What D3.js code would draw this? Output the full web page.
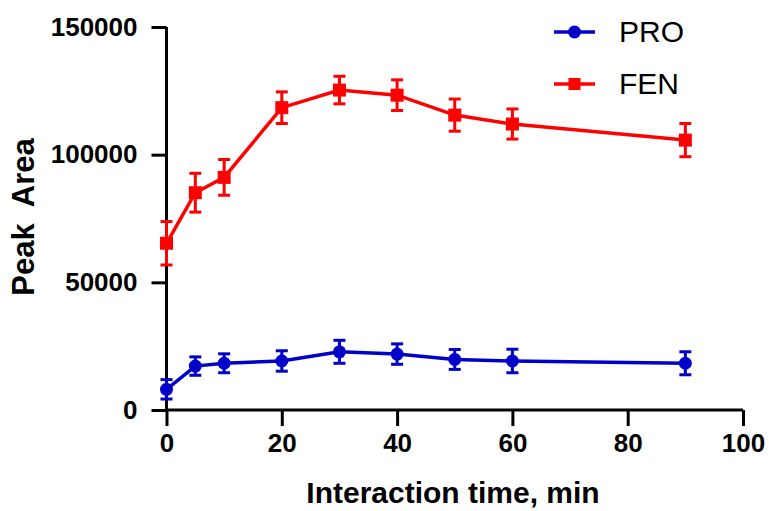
<!DOCTYPE html>
<html><head><meta charset="utf-8">
<script src="https://cdn.jsdelivr.net/npm/d3@7"></script>
<style>body{margin:0;background:#fff}svg{display:block}</style>
</head><body>
<script>
const times = [0, 5, 10, 20, 30, 40, 50, 60, 90];
const proMean = [8100, 17200, 18300, 19200, 22800, 21900, 19800, 19200, 18300];
const proErr  = [3800, 3600, 3700, 4000, 4500, 4000, 3900, 4600, 4500];
const fenMean = [65300, 85100, 91100, 118400, 125300, 123300, 115500, 112000, 105700];
const fenErr  = [8500, 7600, 7000, 6200, 5400, 6000, 6300, 5900, 6500];
const xTicks = [0, 20, 40, 60, 80, 100];
const yTicks = [0, 50000, 100000, 150000];
const seriesNames = ["PRO", "FEN"];
const seriesColors = ["#0000C8", "#FF0000"];

const W = 769, H = 511;
const svg = d3.select("body").append("svg").attr("width", W).attr("height", H);
const x = d3.scaleLinear().domain([0, 100]).range([166.5, 743]);
const y = d3.scaleLinear().domain([0, 150000]).range([410, 27]);
const font = "'Liberation Sans', Arial, sans-serif";

const xAxis = svg.append("g").attr("transform", "translate(0,410)")
  .call(d3.axisBottom(x).tickValues(xTicks).tickSize(16).tickPadding(8).tickFormat(d3.format("d")));
const yAxis = svg.append("g").attr("transform", "translate(166.5,0)")
  .call(d3.axisLeft(y).tickValues(yTicks).tickSize(15).tickPadding(14).tickFormat(d3.format("d")));
[xAxis, yAxis].forEach(a => {
  a.select(".domain").attr("stroke", "#000").attr("stroke-width", 3);
  a.selectAll(".tick line").attr("stroke", "#000").attr("stroke-width", 3);
  a.selectAll(".tick text").attr("fill", "#000").style("font-family", font)
    .style("font-weight", "bold").style("font-size", "26px");
});
xAxis.select(".domain").attr("d", `M${x(0)},0H${x(100)}`);
yAxis.select(".domain").attr("d", `M0,${y(150000)}V${y(0)}`);

svg.append("text").attr("x", 453).attr("y", 503).attr("text-anchor", "middle")
  .style("font-family", font).style("font-weight", "bold").style("font-size", "30px")
  .text("Interaction time, min");
svg.append("text").attr("transform", "translate(34,217) rotate(-90)").attr("text-anchor", "middle")
  .style("font-family", font).style("font-weight", "bold").style("font-size", "31px")
  .style("white-space", "pre").attr("xml:space", "preserve")
  .text("Peak  Area");

const series = [
  {name: seriesNames[0], mean: proMean, err: proErr, color: seriesColors[0], shape: "circle"},
  {name: seriesNames[1], mean: fenMean, err: fenErr, color: seriesColors[1], shape: "square"}
];
const line = d3.line().x(d => x(d.t)).y(d => y(d.v));
series.forEach(s => {
  const pts = times.map((t, i) => ({t, v: s.mean[i], e: s.err[i]}));
  const g = svg.append("g");
  g.append("path").datum(pts).attr("d", line).attr("fill", "none")
    .attr("stroke", s.color).attr("stroke-width", 3.5);
  const eb = g.selectAll(".eb").data(pts).enter().append("g");
  eb.append("line").attr("x1", d => x(d.t)).attr("x2", d => x(d.t))
    .attr("y1", d => y(d.v - d.e)).attr("y2", d => y(d.v + d.e))
    .attr("stroke", s.color).attr("stroke-width", 3);
  [1, -1].forEach(sg => {
    eb.append("line").attr("x1", d => x(d.t) - 6).attr("x2", d => x(d.t) + 6)
      .attr("y1", d => y(d.v + sg * d.e)).attr("y2", d => y(d.v + sg * d.e))
      .attr("stroke", s.color).attr("stroke-width", 3);
  });
  if (s.shape === "circle") {
    g.selectAll(".m").data(pts).enter().append("circle")
      .attr("cx", d => x(d.t)).attr("cy", d => y(d.v)).attr("r", 6.5).attr("fill", s.color);
  } else {
    g.selectAll(".m").data(pts).enter().append("rect")
      .attr("x", d => x(d.t) - 6.5).attr("y", d => y(d.v) - 6.5)
      .attr("width", 13).attr("height", 13).attr("fill", s.color);
  }
});

// legend
const legY = [32, 84];
series.forEach((s, i) => {
  const lg = svg.append("g").attr("transform", `translate(0,${legY[i]})`);
  lg.append("line").attr("x1", 554).attr("x2", 595).attr("y1", 0).attr("y2", 0)
    .attr("stroke", s.color).attr("stroke-width", 3.5);
  if (s.shape === "circle") lg.append("circle").attr("cx", 574.5).attr("cy", 0).attr("r", 6.5).attr("fill", s.color);
  else lg.append("rect").attr("x", 568.5).attr("y", -6).attr("width", 12).attr("height", 12).attr("fill", s.color);
  lg.append("text").attr("x", 619).attr("y", 10).style("font-family", font)
    .style("font-size", "30px").attr("fill", "#000").text(s.name);
});
</script>
</body></html>
